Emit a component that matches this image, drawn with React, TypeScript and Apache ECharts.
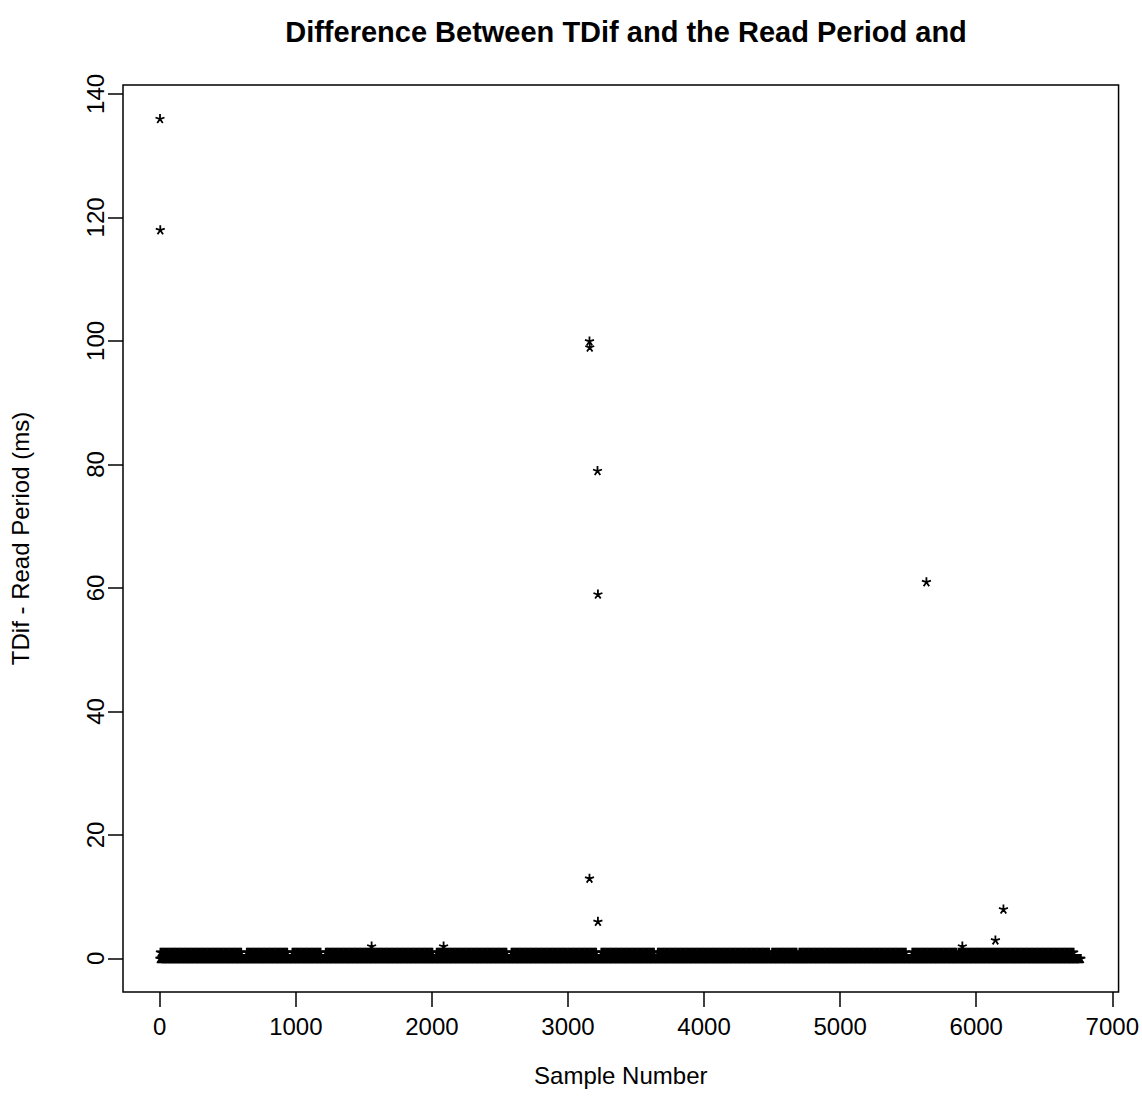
import React, { useEffect, useRef } from "react";
import * as echarts from "echarts";

// ---- Data ----
const titleText = "Difference Between TDif and the Read Period and";
const xAxisTitle = "Sample Number";
const yAxisTitle = "TDif - Read Period (ms)";

const xTickValues = [0, 1000, 2000, 3000, 4000, 5000, 6000, 7000];
const yTickValues = [0, 20, 40, 60, 80, 100, 120, 140];

// isolated samples (sample number, value in ms)
const outlierSamples = [2, 4, 1557, 2086, 3158, 3160, 3158, 3217, 3220, 3220, 5634, 5898, 6141, 6200];
const outlierValues = [136, 118, 2, 2, 100, 99, 13, 79, 59, 6, 61, 2, 3, 8];

// dense baseline samples, run-length encoded: [first sample, last sample]
const zeroRuns = [[1, 6770]];
const oneRuns = [
  [5, 600], [640, 940], [975, 1190], [1220, 1490], [1500, 2005],
  [2035, 2555], [2585, 2990], [3000, 3215], [3245, 3635], [3660, 4480],
  [4500, 4680], [4700, 5490], [5530, 5860], [5870, 6720],
];

const xRange = [1, 6775];
const yRange = [0, 136];

function expandRuns(runs: number[][], value: number, step: number): number[][] {
  const out: number[][] = [];
  for (const [a, b] of runs) {
    for (let s = a; s <= b; s += step) out.push([s, value]);
  }
  return out;
}

const STAR =
  "path://M5 5L5 0M5 5L9.76 3.45M5 5L7.94 9.05M5 5L2.06 9.05M5 5L0.24 3.45";

export default function App() {
  const ref = useRef<HTMLDivElement>(null);
  useEffect(() => {
    if (!ref.current) return;
    const chart = echarts.init(ref.current, undefined, { renderer: "svg" });
    const xPad = (xRange[1] - xRange[0]) * 0.04;
    const yPad = (yRange[1] - yRange[0]) * 0.04;
    const points = [
      ...expandRuns(zeroRuns, 0, 6),
      ...expandRuns(oneRuns, 1, 9),
      ...outlierSamples.map((s, i) => [s, outlierValues[i]]),
    ];
    const font = "'Liberation Sans', Arial, Helvetica, sans-serif";
    chart.setOption({
      animation: false,
      backgroundColor: "#ffffff",
      title: {
        text: titleText,
        left: 621,
        top: 12,
        textAlign: "center",
        textStyle: { fontFamily: font, fontSize: 29, fontWeight: "bold", color: "#000" },
      },
      grid: {
        left: 123,
        top: 85,
        width: 996,
        height: 907,
        show: true,
        borderColor: "#000",
        borderWidth: 1.5,
        backgroundColor: "transparent",
      },
      xAxis: {
        type: "value",
        position: "bottom",
        min: xRange[0] - xPad,
        max: xRange[1] + xPad,
        name: xAxisTitle,
        nameLocation: "middle",
        nameGap: 71,
        nameTextStyle: { fontFamily: font, fontSize: 24, color: "#000" },
        axisLine: { show: false, onZero: false },
        splitLine: { show: false },
        axisTick: {
          show: true,
          inside: false,
          length: 15,
          customValues: xTickValues,
          lineStyle: { color: "#000", width: 1.5 },
        },
        axisLabel: {
          customValues: xTickValues,
          margin: 22,
          fontFamily: font,
          fontSize: 24,
          color: "#000",
          formatter: (v: number) => String(v),
        },
      },
      yAxis: {
        type: "value",
        position: "left",
        min: yRange[0] - yPad,
        max: yRange[1] + yPad,
        name: yAxisTitle,
        nameLocation: "middle",
        nameGap: 91,
        nameRotate: 90,
        nameTextStyle: { fontFamily: font, fontSize: 24, color: "#000" },
        axisLine: { show: false, onZero: false },
        splitLine: { show: false },
        axisTick: {
          show: true,
          inside: false,
          length: 15,
          customValues: yTickValues,
          lineStyle: { color: "#000", width: 1.5 },
        },
        axisLabel: {
          customValues: yTickValues,
          rotate: 90,
          margin: 16,
          fontFamily: font,
          fontSize: 24,
          color: "#000",
          formatter: (v: number) => String(v),
        },
      },
      series: [
        {
          type: "scatter",
          data: points,
          symbol: STAR,
          symbolSize: [9, 9],
          itemStyle: { color: "transparent", borderColor: "#000", borderWidth: 1.8, opacity: 1 },
          emphasis: { disabled: true },
          silent: true,
          large: false,
        },
      ],
    });
    return () => chart.dispose();
  }, []);
  return (
    <div
      ref={ref}
      style={{ position: "absolute", left: 0, top: 0, width: 1142, height: 1110, background: "#fff" }}
    />
  );
}
